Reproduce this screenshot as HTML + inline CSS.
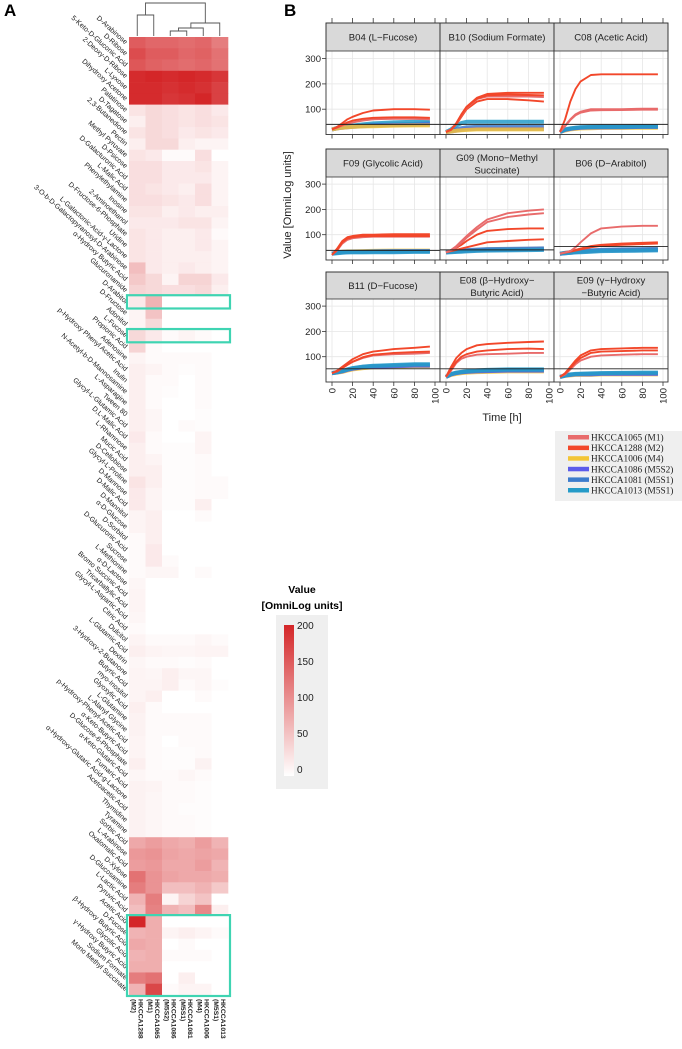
<!DOCTYPE html>
<html><head><meta charset="utf-8">
<style>
html,body{margin:0;padding:0;background:#fff;}
svg{display:block;font-family:"Liberation Sans",Arial,sans-serif;}
</style></head>
<body>
<svg id="fig" width="682" height="1049" viewBox="0 0 682 1049" xmlns="http://www.w3.org/2000/svg">
<text x="4" y="16" font-size="17" font-weight="bold">A</text>
<text x="284" y="16" font-size="17" font-weight="bold">B</text>
<g id="heat"></g>
<g id="dendro" stroke="#555" stroke-width="0.9" fill="none"></g>
<g id="cbar"></g>
<g id="panels"></g>
<g id="legend"></g>
</svg>
<script>
const NS="http://www.w3.org/2000/svg";
function mk(tag,attrs,parent){const e=document.createElementNS(NS,tag);for(const k in attrs)e.setAttribute(k,attrs[k]);parent.appendChild(e);return e;}

// ---------- Heatmap data ----------
const heatColumns=[["HKCCA1288","(M2)"],["HKCCA1065","(M1)"],["HKCCA1086","(M5S2)"],["HKCCA1081","(M5S1)"],["HKCCA1006","(M4)"],["HKCCA1013","(M5S1)"]];
const heatLabels=["D-Arabinose","D-Ribose","5-Keto-D-Gluconic Acid","2-Deoxy-D-Ribose","L-Lyxose","Dihydroxy Acetone","Palatinose","D-Tagatose","2,3-Butanedione","Pectin","Methyl Pyruvate","D-Psicose","D-Galacturonic Acid","L-Malic Acid","Phenylethylamine","Inosine","2-Aminoethanol","D-Fructose-6-Phosphate","Uridine","L-Galactonic-Acid-γ-Lactone","3-O-b-D-Galactopyranosyl-D-Arabinose","α-Hydroxy Butyric Acid","Glucuronamide","D-Arabitol","D-Fructose","Adonitol","L-Fucose","Propionic Acid","Adenosine","p-Hydroxy Phenyl Acetic Acid","Inulin","N-Acetyl-b-D-Mannosamine","L-Asparagine","Tween 80","Glycyl-L-Glutamic Acid","D,L-Malic Acid","L-Rhamnose","Mucic Acid","D-Cellobiose","Glycyl-L-Proline","D-Mannose","D-Malic Acid","D-Mannitol","α-D-Glucose","D-Sorbitol","D-Glucuronic Acid","Sucrose","L-Methionine","α-D-Lactose","Bromo Succinic Acid","Tricarballylic Acid","Glycyl-L-Aspartic Acid","Citric Acid","Dulcitol","L-Glutamic Acid","Dextrin","3-Hydroxy-2-Butanone","Butyric Acid","myo-Inositol","Glyoxylic Acid","L-Glutamine","L-Alanyl Glycine","p-Hydroxy-Phenyl-Acetic Acid","α-Keto-Butyric Acid","D-Glucose-6-Phosphate","α-Keto-Glutaric Acid","Fumaric Acid","α-Hydroxy-Glutaric Acid-g-Lactone","Acetoacetic Acid","Thymidine","Tyramine","Sorbic Acid","L-Arabinose","Oxalomalic Acid","D-Xylose","D-Glucosamine","L-Lactic Acid","Pyruvic Acid","Acetic Acid","D-Fucose","β-Hydroxy Butyric Acid","Glycolic Acid","γ-Hydroxy Butyric Acid","Sodium Formate","Mono Methyl Succinate"];
const heatRows=[
[150,140,140,135,140,120],[165,150,150,140,145,130],[155,145,140,135,140,130],[195,200,195,200,195,185],[195,195,190,195,190,175],[195,195,185,190,200,175],
[25,35,30,25,30,20],[15,35,30,25,30,25],[25,35,30,20,25,20],[15,35,35,15,10,10],[25,20,5,5,30,0],[30,30,20,20,25,10],[30,30,20,20,20,10],[30,25,20,15,30,10],[30,30,25,20,30,10],[25,25,15,20,15,15],[20,20,20,25,25,10],[25,20,15,15,20,5],[25,20,15,15,20,10],[25,20,15,15,15,10],[60,20,15,20,15,10],[50,35,10,40,40,20],[40,35,30,30,35,15],
[20,70,0,0,0,0],[10,55,0,0,0,0],[10,35,0,0,0,0],[35,20,5,10,5,0],[40,5,0,0,0,0],[10,5,5,5,5,0],[15,10,5,3,5,0],[15,5,5,0,5,0],[15,5,3,0,5,0],[15,5,0,0,5,0],[15,8,0,0,3,0],[15,8,0,5,3,0],[20,5,0,0,10,0],[15,5,3,3,10,0],[15,10,3,3,5,0],[15,15,3,3,5,0],[25,15,3,3,5,5],[20,10,3,3,5,5],[20,10,3,3,15,0],[10,15,0,0,5,0],[10,15,0,0,0,0],[5,15,0,0,0,0],[5,20,0,0,0,0],[5,20,5,0,0,0],[5,8,8,0,5,0],[8,0,0,0,0,0],[10,0,0,0,0,0],[10,0,0,0,0,0],[8,0,0,0,0,0],[5,0,0,0,0,0],
[10,5,5,5,8,5],[15,10,8,8,10,10],[8,5,5,3,5,0],[10,8,15,8,8,0],[10,10,15,5,8,3],[10,15,0,0,5,0],[15,5,0,0,0,0],[12,5,5,5,5,0],[12,5,5,5,5,0],[10,5,0,5,5,0],[10,5,3,3,5,0],[15,5,3,3,12,0],[8,5,5,8,5,0],[12,10,5,5,3,0],[12,8,5,5,3,0],[12,8,5,3,3,0],[12,8,5,5,3,0],[12,8,5,5,3,0],
[80,90,80,75,90,70],[95,100,85,80,85,80],[90,95,80,80,90,70],[130,100,85,80,80,75],[120,100,60,60,70,50],[70,120,10,40,55,0],[60,115,70,60,110,15],
[200,75,0,0,0,0],[70,75,10,15,10,5],[80,75,0,5,0,0],[70,75,5,5,5,0],[75,75,0,0,0,0],[120,130,0,15,0,0],[70,170,5,10,10,0]];
const highlightRows=[[23,23],[26,26],[78,84]];
const cbarTicks=[0,50,100,150,200];

const HX0=129,HX1=228,HY0=37,HY1=995;
const colW=(HX1-HX0)/heatColumns.length, rowH=(HY1-HY0)/heatLabels.length;
const hx=i=>HX0+i*colW, hy=r=>HY0+r*rowH;
function heatColor(v){const t=Math.max(0,Math.min(1,v/200));const r=Math.round(255-t*(255-212)),g=Math.round(255-t*(255-38)),b=Math.round(255-t*(255-40));return `rgb(${r},${g},${b})`;}

const heat=document.getElementById('heat');
heatRows.forEach((row,r)=>{
  row.forEach((v,c)=>{
    const cell=mk('rect',{x:hx(c),y:hy(r),width:colW+0.3,height:rowH+0.3,fill:heatColor(v)},heat);
    
    
  });
});
heatLabels.forEach((lab,r)=>{
  const cy=hy(r)+rowH/2+2;
  const t=mk('text',{x:125,y:cy,'font-size':7,'text-anchor':'end',fill:'#222',transform:`rotate(42 125 ${cy})`},heat);
  t.textContent=lab;
  
  
});
heatColumns.forEach((c,i)=>{
  const cx=hx(i)+colW/2;
  const g=mk('g',{transform:`translate(${cx} 999) rotate(90)`},heat);
  const t1=mk('text',{x:0,y:-1,'font-size':6.8,'font-weight':'bold',fill:'#222'},g);t1.textContent=c[0];
  
  
  const t2=mk('text',{x:0,y:6,'font-size':6.8,'font-weight':'bold',fill:'#222'},g);t2.textContent=c[1];
  
  
});
highlightRows.forEach(h=>{
  const b=mk('rect',{x:HX0-2,y:hy(h[0])-1,width:HX1-HX0+4,height:hy(h[1]+1)-hy(h[0])+2,fill:'none',stroke:'#3fd4b2','stroke-width':2.2},heat);
  
  
});

// dendrogram
const dd=document.getElementById('dendro');
const cc=i=>hx(i)+colW/2;
mk('path',{d:`M${cc(0)} 36V15H${cc(1)}V36`},dd);
mk('path',{d:`M${cc(2)} 36V31H${cc(3)}V36`},dd);
mk('path',{d:`M${(cc(2)+cc(3))/2} 31V28H${cc(4)}V36`},dd);
mk('path',{d:`M${(cc(2)+cc(3)+2*cc(4))/4} 28V23H${cc(5)}V36`},dd);
mk('path',{d:`M${(cc(0)+cc(1))/2} 15V3H${((cc(2)+cc(3)+2*cc(4))/4+cc(5))/2}V23`},dd);

// color bar
const cb=document.getElementById('cbar');
let tt=mk('text',{x:302,y:593,'font-size':10.5,'font-weight':'bold','text-anchor':'middle'},cb);tt.textContent='Value';

tt=mk('text',{x:302,y:609,'font-size':10.5,'font-weight':'bold','text-anchor':'middle'},cb);tt.textContent='[OmniLog units]';

mk('rect',{x:276,y:615,width:52,height:174,fill:'#efefef'},cb);
const defs=mk('defs',{},cb);const lg=mk('linearGradient',{id:'cg',x1:0,y1:1,x2:0,y2:0},defs);
mk('stop',{offset:0,'stop-color':heatColor(0)},lg);mk('stop',{offset:1,'stop-color':heatColor(200)},lg);
const cbY=v=>769-v*0.72;
mk('rect',{x:284,y:cbY(200),width:10,height:cbY(0)-cbY(200)+7,fill:'url(#cg)'},cb);
cbarTicks.forEach(v=>{const t=mk('text',{x:297,y:cbY(v)+4,'font-size':10,fill:'#222'},cb);t.textContent=v;
  });

// ---------- Panel B data ----------
const times=[0,5,10,15,20,30,40,60,80,95];
const panelTitles=[["B04 (L−Fucose)"],["B10 (Sodium Formate)"],["C08 (Acetic Acid)"],["F09 (Glycolic Acid)"],["G09 (Mono−Methyl","Succinate)"],["B06 (D−Arabitol)"],["B11 (D−Fucose)"],["E08 (β−Hydroxy−","Butyric Acid)"],["E09 (γ−Hydroxy","−Butyric Acid)"]];
const thresholds=[40,40,40,38,40,53,52,52,52];
const strainNames=["HKCCA1065 (M1)","HKCCA1288 (M2)","HKCCA1006 (M4)","HKCCA1086 (M5S2)","HKCCA1081 (M5S1)","HKCCA1013 (M5S1)"];
const strainColors=["#e86b6b","#f2472a","#f3c536","#5b5bea","#3c7ccc","#259bc8"];
const curvesB04=[[4,20,25,28,30,32,35,38,40,42,45],[5,20,26,30,33,35,40,44,48,50,52],[3,20,24,27,29,31,33,35,37,38,40],[2,20,24,27,29,30,32,33,35,36,36],[0,20,27,35,42,48,55,60,62,62,60],[1,20,28,38,48,55,62,66,68,68,66],[1,20,30,45,60,70,85,95,100,100,98]];
const curvesB10=[[5,10,20,35,45,50,50,50,50,50,50],[4,10,15,20,25,28,30,30,30,30,30],[3,10,12,15,18,20,22,22,22,22,22],[2,10,12,15,17,18,20,20,20,20,20],[1,10,18,40,70,100,130,140,140,135,130],[0,10,18,42,75,105,140,150,150,150,148],[1,10,20,45,80,110,145,160,165,165,165],[1,10,19,43,78,108,142,155,158,156,155]];
const curvesC08=[[2,10,16,20,22,24,25,26,26,27,27],[3,10,18,22,25,27,28,28,29,30,30],[4,10,19,23,26,28,29,30,30,31,31],[5,10,20,24,27,29,30,31,31,32,32],[0,10,35,60,80,90,100,100,100,102,102],[0,10,33,57,76,86,95,96,97,98,98],[1,10,60,130,180,210,235,238,238,238,238]];
const curvesF09=[[2,25,30,33,34,34,35,36,37,37,37],[3,25,28,30,31,32,32,33,33,34,34],[4,25,30,32,33,33,33,34,35,35,35],[5,25,27,29,30,30,30,31,31,32,32],[0,20,38,65,80,86,90,92,92,92,92],[1,20,40,70,85,90,95,95,95,95,95],[1,20,45,75,90,95,100,100,102,102,102]];
const curvesG09=[[2,30,33,35,37,38,40,42,43,44,45],[3,30,32,33,35,36,38,40,40,42,42],[4,30,33,35,37,39,41,43,44,45,46],[5,30,31,32,33,34,36,37,38,39,40],[1,30,35,40,45,50,60,70,75,80,82],[1,30,38,48,60,75,100,115,122,125,125],[0,30,38,50,68,88,120,150,170,180,185],[0,30,40,55,75,95,130,160,185,195,200]];
const curvesB06=[[2,25,28,30,32,34,36,38,40,40,42],[3,25,27,29,31,33,35,37,38,39,40],[4,25,28,31,33,35,38,40,42,43,44],[5,25,27,28,30,31,33,35,36,37,38],[1,25,30,35,40,45,55,60,65,68,70],[1,25,29,33,37,42,50,56,60,63,65],[0,25,30,35,50,70,105,125,132,135,135]];
const curvesB11=[[2,35,37,40,45,50,55,58,60,62,62],[3,35,38,42,48,52,58,60,62,65,65],[4,35,38,43,49,54,60,63,65,68,68],[5,35,39,44,50,55,61,64,67,70,70],[0,35,42,55,68,80,95,105,110,112,115],[1,35,42,55,68,80,98,108,115,118,120],[1,35,45,60,75,90,110,120,130,135,140]];
const curvesE08=[[2,20,28,32,35,37,39,40,42,42,42],[3,20,30,35,38,40,42,43,45,45,45],[4,20,31,36,39,41,44,45,47,47,47],[5,20,32,37,40,43,46,48,50,50,50],[0,20,45,75,92,100,108,110,112,115,115],[1,20,50,80,100,110,120,125,130,132,130],[1,20,60,95,115,130,145,150,155,158,160]];
const curvesE09=[[2,20,24,26,28,28,28,30,30,30,30],[3,20,25,28,30,30,30,32,32,32,32],[4,20,26,29,31,32,33,34,35,35,35],[5,20,26,30,32,33,34,35,36,37,37],[0,20,30,50,70,85,100,105,108,110,110],[1,20,33,55,78,95,115,120,122,125,125],[1,20,35,60,85,105,125,130,133,135,135]];
const panelCurves=[curvesB04,curvesB10,curvesC08,curvesF09,curvesG09,curvesB06,curvesB11,curvesE08,curvesE09];
const xTicks=[0,20,40,60,80,100];
const yTicks=[100,200,300];

const colLeft=[326,440,554], PW=114;
const stripTop=[23,149,272], plotTop=[51,177,299], plotBottom=[134.5,260,382];
const pan=document.getElementById('panels');
function xScale(col,t){return colLeft[col]+6+t*1.03;}
function yScale(row,v){return plotBottom[row]-v*0.253;}

panelTitles.forEach((title,p)=>{
  const row=Math.floor(p/3), col=p%3;
  const g=mk('g',{},pan);
  
  
  const L=colLeft[col], T=plotTop[row], B=plotBottom[row];
  mk('rect',{x:L,y:T,width:PW,height:B-T,fill:'#fff'},g);
  xTicks.forEach(t=>mk('line',{x1:xScale(col,t),x2:xScale(col,t),y1:T,y2:B,stroke:'#e6e6e6','stroke-width':0.8},g));
  yTicks.forEach(v=>mk('line',{x1:L,x2:L+PW,y1:yScale(row,v),y2:yScale(row,v),stroke:'#e6e6e6','stroke-width':0.8},g));
  panelCurves[p].forEach(cv=>{
    const s=cv[0], vals=cv.slice(1);
    const pts=vals.map((v,i)=>xScale(col,times[i]).toFixed(1)+','+yScale(row,v).toFixed(1)).join(' ');
    const isRed=s<2;
    const pl=mk('polyline',{points:pts,fill:'none',stroke:strainColors[s],'stroke-width':isRed?1.9:4,'stroke-linejoin':'round','stroke-opacity':isRed?1:0.85},g);
    
    
  });
  mk('line',{x1:L,x2:L+PW,y1:yScale(row,thresholds[p]),y2:yScale(row,thresholds[p]),stroke:'#222','stroke-width':0.9},g);
  mk('rect',{x:L,y:stripTop[row],width:PW,height:T-stripTop[row],fill:'#d9d9d9',stroke:'#333','stroke-width':0.8},g);
  mk('rect',{x:L,y:stripTop[row],width:PW,height:B-stripTop[row],fill:'none',stroke:'#333','stroke-width':0.9},g);
  const cy=(stripTop[row]+T)/2;
  title.forEach((line,i)=>{
    const ty=title.length==1?cy+3.5:cy-2+i*12.5;
    const t=mk('text',{x:L+PW/2,y:ty,'font-size':9.6,'text-anchor':'middle',fill:'#222'},g);t.textContent=line;
    
  });
  if(col==0){yTicks.forEach(v=>{mk('line',{x1:L-4,x2:L,y1:yScale(row,v),y2:yScale(row,v),stroke:'#333','stroke-width':0.8},g);
    const t=mk('text',{x:L-5,y:yScale(row,v)+3.5,'font-size':9.5,'text-anchor':'end',fill:'#222'},g);t.textContent=v;
    });}
  xTicks.forEach(t=>{
    mk('line',{x1:xScale(col,t),x2:xScale(col,t),y1:B,y2:B+4,stroke:'#333','stroke-width':0.8},g);
    if(row==0)mk('line',{x1:xScale(col,t),x2:xScale(col,t),y1:stripTop[0]-5,y2:stripTop[0],stroke:'#333','stroke-width':0.8},g);
    if(row==2){const x=xScale(col,t);const tx=mk('text',{x:0,y:0,'font-size':9.5,'text-anchor':'end',fill:'#222',transform:`translate(${x+3.5} 388) rotate(-90)`},g);tx.textContent=t;
      }
  });
});
let ax=mk('text',{x:502,y:421,'font-size':11,'text-anchor':'middle',fill:'#222'},pan);ax.textContent='Time [h]';

ax=mk('text',{x:0,y:0,'font-size':11,'text-anchor':'middle',fill:'#222',transform:'translate(291 205) rotate(-90)'},pan);ax.textContent='Value [OmniLog units]';


// legend
const lgd=document.getElementById('legend');
mk('rect',{x:555,y:431,width:127,height:70,fill:'#efefef'},lgd);
strainNames.forEach((n,i)=>{
  const y=437+i*10.6;
  const sw=mk('rect',{x:568,y:y-2,width:21,height:4.5,fill:strainColors[i]},lgd);
  
  const t=mk('text',{x:591,y:y+3.5,'font-size':9.3,'font-family':'Liberation Serif, serif',fill:'#222'},lgd);t.textContent=n;
  
});
</script>
</body></html>
